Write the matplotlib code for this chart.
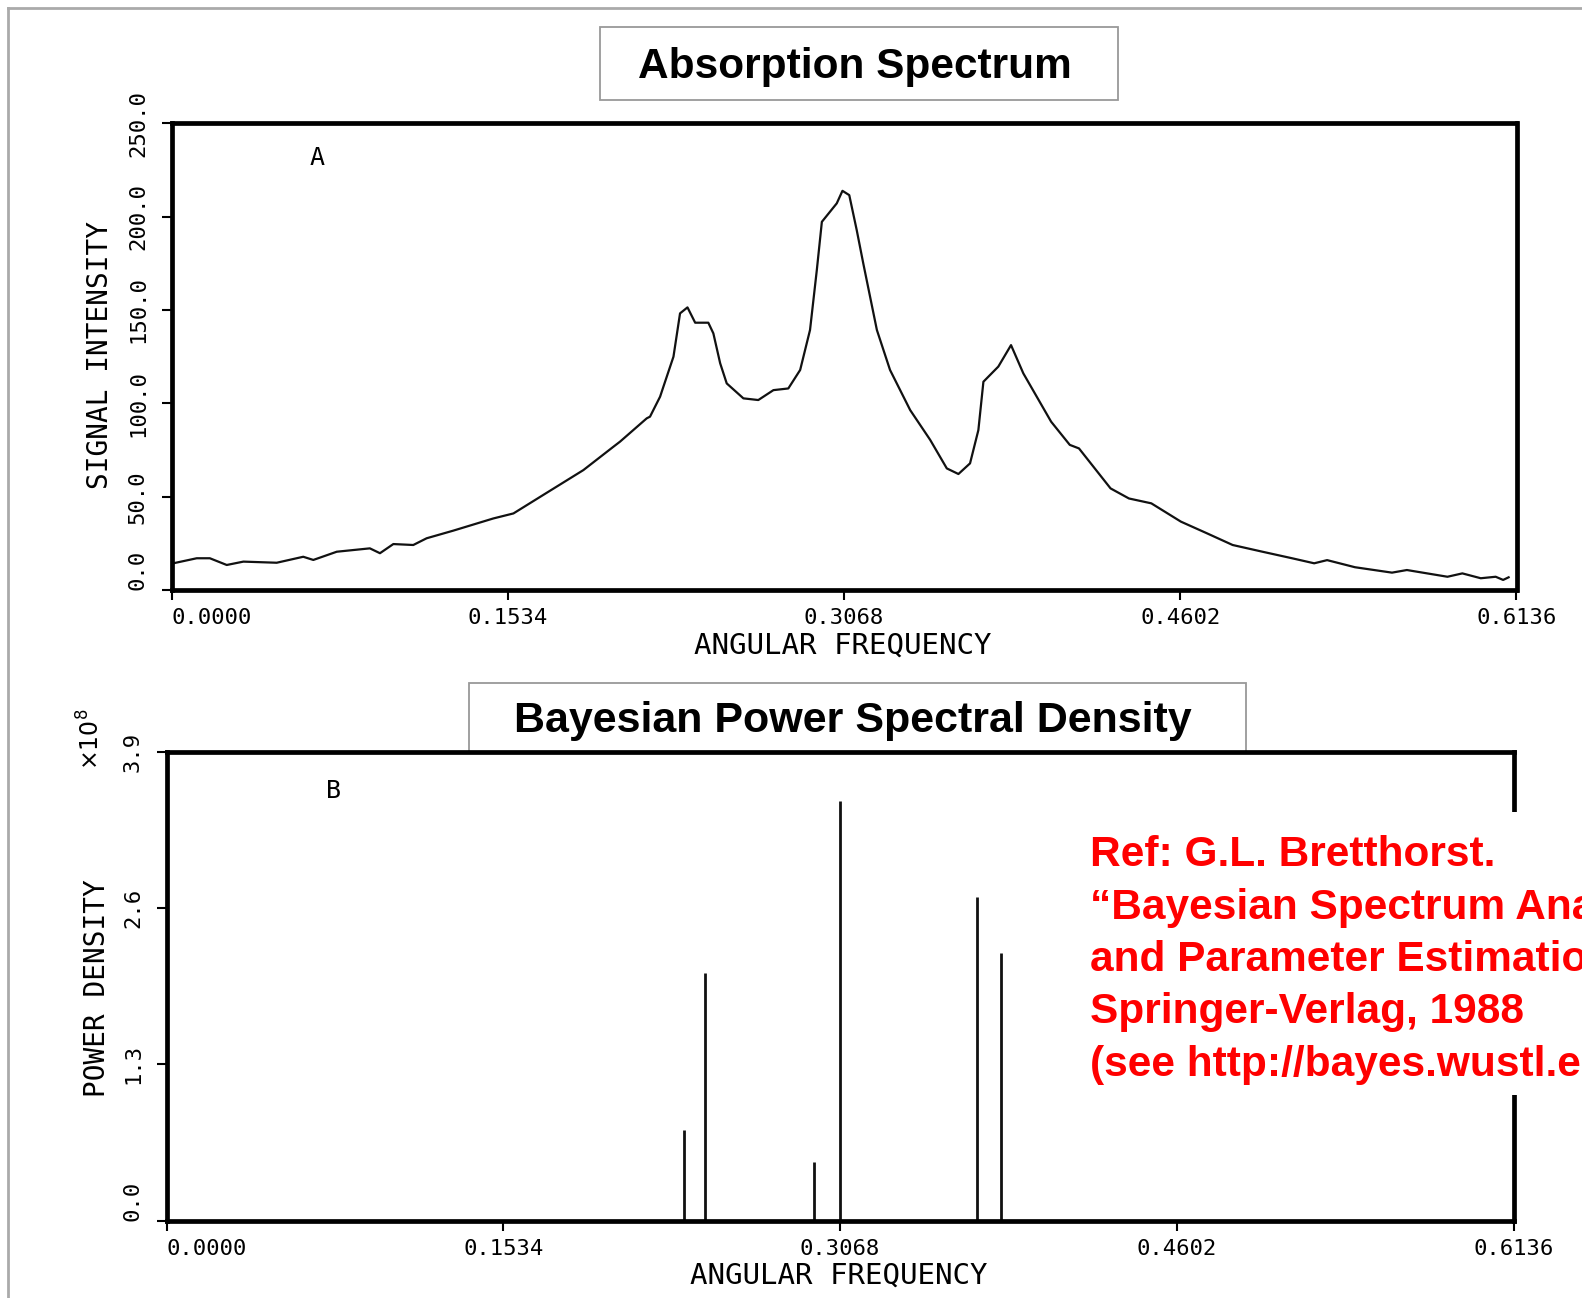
import matplotlib.pyplot as plt
from matplotlib.patches import Rectangle
from matplotlib.lines import Line2D

# Panel A: absorption spectrum
freq_a = [0.0008, 0.0115, 0.0175, 0.0252, 0.0328, 0.0480, 0.0601, 0.0647, 0.0754, 0.0905,
          0.0951, 0.1012, 0.1103, 0.1164, 0.1286, 0.1468, 0.1560, 0.1696, 0.1879, 0.2016,
          0.2046, 0.2168, 0.2183, 0.2229, 0.2244, 0.2290, 0.2320, 0.2354, 0.2389, 0.2449,
          0.2472, 0.2503, 0.2533, 0.2609, 0.2677, 0.2746, 0.2814, 0.2868, 0.2913, 0.2944,
          0.2967, 0.3035, 0.3061, 0.3092, 0.3126, 0.3156, 0.3218, 0.3278, 0.3370, 0.3461,
          0.3537, 0.3590, 0.3643, 0.3681, 0.3704, 0.3772, 0.3830, 0.3886, 0.4013, 0.4098,
          0.4140, 0.4284, 0.4368, 0.4470, 0.4605, 0.4723, 0.4841, 0.4977, 0.5112, 0.5213,
          0.5272, 0.5399, 0.5568, 0.5636, 0.5821, 0.5889, 0.5973, 0.6041, 0.6075, 0.6100]
intensity = [14.4, 17.1, 17.1, 13.5, 15.3, 14.7, 17.9, 16.2, 20.6, 22.4,
             19.8, 24.7, 24.2, 27.8, 31.9, 38.4, 41.1, 51.0, 64.3, 76.8,
             79.5, 92.0, 92.9, 103.6, 108.9, 125.0, 148.2, 151.4, 143.2, 143.2,
             137.5, 121.5, 110.7, 102.7, 101.8, 107.1, 108.0, 117.9, 139.3, 171.4,
             197.2, 207.1, 213.8, 211.5, 192.8, 174.9, 139.3, 117.9, 96.4, 80.5,
             65.2, 62.2, 67.9, 85.7, 111.6, 119.7, 131.2, 116.1, 90.2, 77.8,
             75.9, 54.5, 49.1, 46.5, 36.7, 30.5, 24.2, 20.6, 17.1, 14.4,
             16.1, 12.3, 9.4, 10.8, 7.2, 9.0, 6.4, 7.2, 5.5, 6.9]

# Panel B: Bayesian power spectral density lines (units of 1e8)
freq_b = [0.2359, 0.2453, 0.2951, 0.3068, 0.3691, 0.3801]
power = [0.755, 2.057, 0.491, 3.493, 2.695, 2.224]

xticks = [0.0, 0.1534, 0.3068, 0.4602, 0.6136]
xticklabels = ['0.0000', '0.1534', '0.3068', '0.4602', '0.6136']
yticks_a = [0, 50, 100, 150, 200, 250]
yticklabels_a = ['0.0', '50.0', '100.0', '150.0', '200.0', '250.0']
yticks_b = [0.0, 1.3, 2.6, 3.9]
yticklabels_b = ['0.0', '1.3', '2.6', '3.9']

W, H = 1582, 1298
fig = plt.figure(figsize=(W / 100, H / 100), dpi=100)
mono = 'DejaVu Sans Mono'
sans = 'Liberation Sans'


def style_axes(ax, yticks, yticklabels):
    for sp in ax.spines.values():
        sp.set_linewidth(3.4)
        sp.set_color('black')
    ax.set_xlim(0, 0.6136)
    ax.set_xticks(xticks)
    ax.set_xticklabels(xticklabels, family=mono, fontsize=16)
    ax.set_yticks(yticks)
    ax.set_yticklabels(yticklabels, family=mono, fontsize=16, rotation=90, va='center')
    ax.tick_params(axis='x', direction='out', length=7, width=1.5, pad=6)
    ax.tick_params(axis='y', direction='out', length=7, width=1.5, pad=10)
    ax.get_xticklabels()[0].set_horizontalalignment('left')
    ax.get_yticklabels()[0].set_verticalalignment('bottom')


# ---- panel A
ax1 = fig.add_axes([171.5 / W, 1 - 590.2 / H, 1345 / W, 467 / H])
ax1.plot(freq_a, intensity, color='#111111', lw=1.6)
ax1.set_ylim(0, 250)
style_axes(ax1, yticks_a, yticklabels_a)
ax1.set_xlabel('ANGULAR FREQUENCY', family=mono, fontsize=21)
ax1.xaxis.set_label_coords(0.499, -0.088)
ax1.set_ylabel('SIGNAL INTENSITY', family=mono, fontsize=20)
ax1.yaxis.set_label_coords(-0.043, 0.504)
ax1.text(0.108, 0.925, 'A', transform=ax1.transAxes, family=mono, fontsize=18,
         ha='center', va='center')

# ---- panel B
ax2 = fig.add_axes([166.5 / W, 1 - 1220.8 / H, 1347 / W, 469.2 / H])
ax2.vlines(freq_b, 0, power, color='#111111', lw=2)
ax2.set_ylim(0, 3.9)
style_axes(ax2, yticks_b, yticklabels_b)
ax2.set_xlabel('ANGULAR FREQUENCY', family=mono, fontsize=21)
ax2.xaxis.set_label_coords(0.499, -0.088)
ax2.set_ylabel('POWER DENSITY', family=mono, fontsize=20)
ax2.yaxis.set_label_coords(-0.041, 0.495)
ax2.text(0.124, 0.915, 'B', transform=ax2.transAxes, family=mono, fontsize=18,
         ha='center', va='center')
fig.text(91 / W, 1 - 739 / H, r'$\times10^{8}$', rotation=90, fontsize=17,
         ha='center', va='center')

# ---- title boxes
fig.add_artist(Rectangle((600 / W, 1 - 100 / H), 518 / W, 73 / H, transform=fig.transFigure,
                         fill=False, edgecolor='#999999', lw=1.3))
fig.text(855 / W, 1 - 67 / H, 'Absorption Spectrum', family=sans, fontweight='bold',
         fontsize=30.5, ha='center', va='center')
fig.add_artist(Rectangle((469 / W, 1 - 752 / H), 777 / W, 69 / H, transform=fig.transFigure,
                         facecolor='white', edgecolor='#999999', lw=1.3, zorder=0))
fig.text(853 / W, 1 - 721 / H, 'Bayesian Power Spectral Density', family=sans,
         fontweight='bold', fontsize=31, ha='center', va='center')

# outer frame of the scan
fig.add_artist(Line2D([8 / W, 1], [1 - 8 / H, 1 - 8 / H], transform=fig.transFigure,
                      color='#aaaaaa', lw=2))
fig.add_artist(Line2D([8 / W, 8 / W], [0, 1 - 8 / H], transform=fig.transFigure,
                      color='#aaaaaa', lw=2))

# reference note over the lower panel
fig.add_artist(Rectangle((1064 / W, 1 - 1095 / H), (W - 1064) / W, 283 / H,
                         transform=fig.transFigure, facecolor='white', edgecolor='none',
                         zorder=5))
ref_lines = ['Ref: G.L. Bretthorst.',
             '\u201cBayesian Spectrum Analysis',
             'and Parameter Estimation\u201d',
             'Springer-Verlag, 1988',
             '(see http://bayes.wustl.edu)']
for i, line in enumerate(ref_lines):
    fig.text(1090 / W, 1 - (866.3 + 52.4 * i) / H, line, family=sans, fontweight='bold',
             fontsize=30.5, color='#ff0000', ha='left', va='baseline', zorder=6)

fig.savefig('out.png', dpi=100)
